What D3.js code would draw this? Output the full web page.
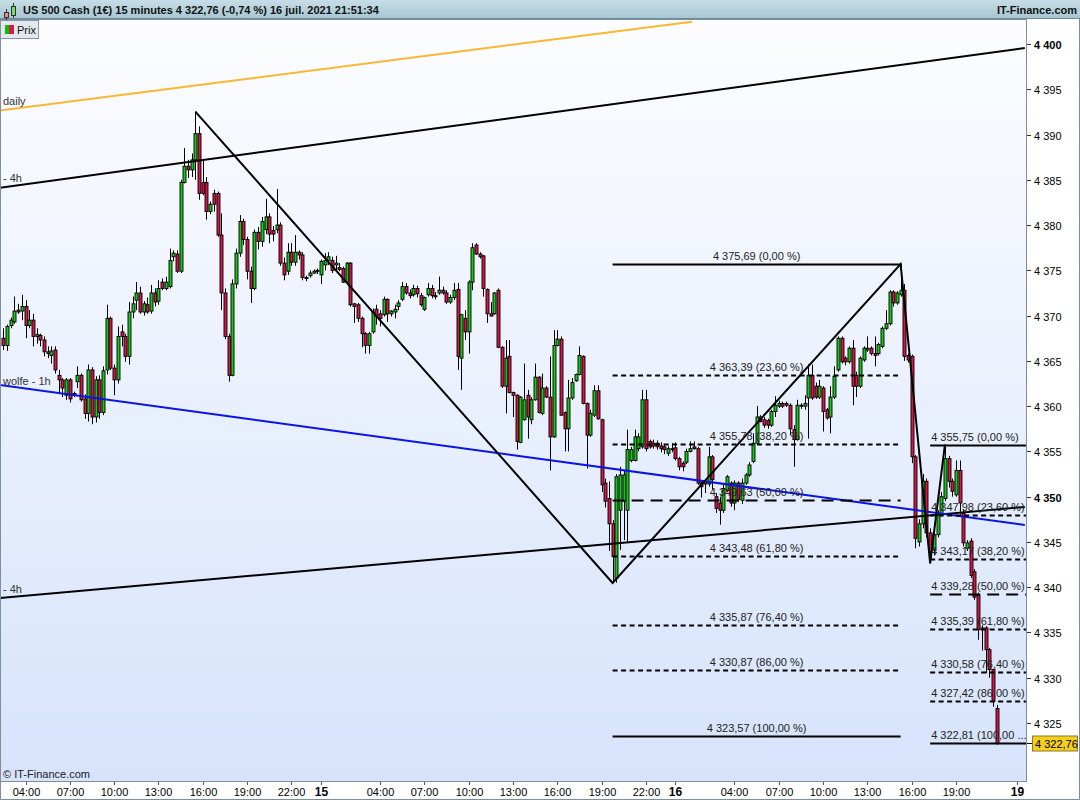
<!DOCTYPE html>
<html><head><meta charset="utf-8">
<script src="https://cdn.jsdelivr.net/npm/d3@7"></script>
<style>body{margin:0;background:#fff}svg{display:block}text{font-family:"Liberation Sans",Arial,sans-serif}</style>
</head><body><svg id="c" width="1080" height="800"></svg>
<script>
// ---------- data ----------
const firstCandleHour = 2.5;      // 14 juil. 02:30 (hours since 14 juil. 00:00)
const candleHours = 0.25;         // 15 minutes
const opens = [4367.5,4366.7,4368.9,4369.3,4370.6,4370.5,4371.0,4368.9,4369.5,4367.7,4367.8,4367.3,4366.0,4365.6,4366.2,4363.4,4362.9,4361.2,4362.9,4361.3,4362.7,4363.4,4360.8,4359.2,4364.0,4358.8,4362.9,4359.3,4364.0,4369.7,4364.2,4362.9,4368.2,4367.7,4365.5,4370.4,4371.7,4372.5,4370.4,4371.2,4370.5,4372.5,4371.6,4373.7,4373.0,4373.2,4376.5,4376.8,4374.9,4384.7,4386.5,4386.1,4387.2,4390.1,4384.7,4384.7,4381.5,4383.5,4383.5,4378.9,4372.5,4367.7,4363.4,4373.5,4376.9,4380.4,4378.4,4374.9,4373.0,4379.2,4378.2,4379.5,4380.9,4379.4,4379.5,4380.0,4375.8,4374.9,4377.0,4375.9,4377.0,4376.7,4374.2,4374.4,4374.7,4375.0,4374.5,4375.6,4376.1,
4376.1,4375.6,4375.3,4375.2,4373.7,4375.8,4371.3,4371.2,4369.7,4368.0,4366.7,4368.2,4370.7,4370.2,4370.1,4371.8,4370.2,4370.4,4371.0,4371.8,4373.2,4372.5,4372.3,4373.0,4372.2,4370.7,4372.3,4373.0,4372.1,4372.5,4372.8,4372.5,4371.5,4372.0,4372.9,4365.3,4369.7,4368.2,4373.7,4377.8,4376.8,4376.6,4372.9,4370.2,4370.2,4372.8,4366.5,4362.2,4365.5,4361.5,4361.2,4356.0,4358.5,4361.2,4358.5,4360.7,4363.2,4359.2,4362.0,4361.0,4356.6,4366.7,4367.4,4359.3,4357.5,4360.9,4362.8,4363.5,4365.5,4360.3,4356.8,4359.0,4361.7,
4358.5,4351.5,4349.8,4347.0,4341.0,4348.5,4349.5,4348.5,4354.0,4354.0,4355.3,4355.5,4360.7,4356.1,4355.9,4355.9,4355.6,4355.5,4354.8,4355.3,4355.4,4354.2,4353.7,4353.8,4355.0,4355.5,4355.3,4351.5,4351.7,4351.4,4354.4,4350.0,4349.3,4348.5,4350.7,4351.5,4349.3,4351.5,4349.6,4351.5,4352.4,4353.9,4355.9,4358.8,4358.5,4358.4,4357.9,4359.4,4360.0,4360.3,4360.3,4360.1,4357.4,4356.3,4360.1,4360.0,4360.9,4363.4,4362.2,4361.0,4362.0,4359.6,4358.8,4361.0,4364.0,4367.5,4365.3,4364.9,4366.4,4363.4,4362.2,4365.1,4366.2,4366.4,4365.8,4365.8,4366.6,4368.6,4369.1,4372.6,4371.4,4372.3,4372.8,4365.6,
4365.5,4354.4,4345.0,4347.0,4351.7,4346.0,4344.1,4345.8,4348.0,4349.8,4354.2,4351.7,4350.2,4352.9,4348.2,4344.3,4345.1,4341.7,4339.1,4335.5,4335.5,4333.1,4330.9,4326.6];
const highs = [4368.6,4369.0,4369.8,4372.1,4371.3,4372.3,4371.7,4370.6,4370.2,4368.6,4368.0,4367.7,4366.6,4366.6,4366.6,4364.0,4363.1,4363.1,4363.1,4361.6,4364.4,4363.6,4361.3,4364.6,4364.3,4363.3,4363.4,4364.4,4371.2,4369.9,4364.6,4368.8,4369.0,4368.0,4371.5,4372.1,4373.7,4373.2,4371.6,4372.0,4373.4,4373.0,4373.9,4374.1,4374.3,4377.4,4377.2,4377.2,4385.0,4388.5,4387.2,4387.9,4392.54,4390.9,4387.2,4385.3,4382.6,4383.9,4383.7,4381.3,4373.0,4368.0,4374.0,4377.4,4381.1,4380.7,4378.7,4375.4,4379.5,4379.8,4380.9,4382.9,4381.3,4379.9,4384.0,4380.3,4376.4,4378.0,4378.0,4378.9,4377.2,4377.0,4374.4,4375.0,4375.1,4375.2,4376.2,4376.9,4377.0,
4376.5,4376.6,4375.8,4375.4,4375.9,4375.9,4371.4,4371.4,4369.9,4368.2,4368.2,4370.8,4371.2,4370.6,4372.1,4371.9,4370.6,4371.2,4371.7,4373.7,4373.6,4372.9,4373.4,4373.3,4372.5,4372.1,4373.6,4373.4,4372.6,4374.3,4373.2,4372.8,4372.3,4373.6,4373.6,4370.2,4370.6,4373.9,4378.0,4378.0,4377.0,4376.7,4373.0,4371.5,4372.6,4373.0,4366.6,4367.3,4367.3,4361.6,4361.3,4361.1,4364.7,4361.8,4361.0,4364.7,4363.3,4363.6,4362.2,4365.5,4368.4,4368.4,4367.7,4359.4,4362.9,4363.1,4363.6,4366.6,4365.6,4360.4,4359.6,4362.3,4362.3,
4358.6,4352.0,4351.7,4347.4,4352.5,4353.3,4352.9,4357.4,4355.5,4357.4,4357.0,4361.8,4361.8,4356.3,4356.3,4356.2,4356.0,4355.8,4355.6,4355.9,4356.0,4354.4,4353.9,4355.3,4356.1,4356.1,4355.5,4351.6,4351.9,4355.5,4354.6,4350.4,4350.0,4351.3,4352.4,4351.7,4351.8,4351.7,4352.0,4352.6,4353.8,4357.0,4360.0,4359.0,4358.8,4358.6,4359.6,4361.1,4360.6,4360.5,4360.5,4360.3,4357.9,4360.7,4360.3,4361.2,4364.6,4364.6,4362.6,4362.9,4362.2,4359.8,4362.2,4364.4,4367.7,4367.7,4365.5,4366.6,4367.3,4363.8,4365.5,4366.6,4367.7,4366.6,4367.7,4367.0,4368.8,4370.6,4372.8,4372.8,4372.7,4375.69,4373.5,4365.8,
4365.7,4354.6,4347.5,4352.5,4352.0,4346.5,4346.2,4348.5,4350.5,4355.75,4354.5,4352.0,4354.0,4354.0,4348.6,4345.2,4345.4,4342.0,4339.4,4335.8,4335.7,4333.3,4331.0,4327.0];
const lows = [4366.2,4366.1,4368.6,4369.1,4370.2,4369.5,4367.5,4368.6,4366.6,4366.9,4366.6,4365.5,4365.3,4364.7,4363.6,4361.4,4361.0,4360.7,4360.4,4361.0,4362.0,4360.5,4358.6,4358.3,4358.0,4358.2,4358.6,4359.0,4363.5,4364.0,4361.2,4362.5,4366.6,4364.9,4364.6,4369.7,4370.6,4370.2,4370.0,4370.2,4370.2,4371.0,4371.2,4372.8,4372.8,4373.0,4376.0,4374.7,4374.7,4384.6,4385.2,4385.3,4385.0,4382.8,4383.3,4380.6,4381.2,4381.5,4378.7,4370.6,4367.4,4362.7,4363.3,4373.0,4376.5,4377.8,4374.0,4371.4,4372.8,4377.3,4377.6,4379.0,4378.0,4378.2,4379.1,4375.5,4373.9,4374.5,4375.5,4375.5,4376.2,4373.9,4373.8,4374.2,4374.6,4374.6,4373.5,4375.0,4375.6,
4374.7,4375.0,4374.9,4373.6,4373.6,4371.0,4369.2,4369.3,4366.5,4365.8,4365.8,4368.0,4369.0,4368.8,4369.9,4369.3,4369.9,4369.7,4370.6,4371.6,4372.3,4371.9,4372.1,4372.0,4371.0,4370.5,4372.1,4371.9,4371.8,4372.3,4372.3,4371.3,4371.3,4371.7,4364.0,4361.8,4367.3,4365.8,4372.8,4376.7,4376.3,4372.1,4369.2,4369.9,4370.1,4366.4,4362.0,4359.2,4361.4,4358.8,4355.2,4355.9,4358.4,4356.4,4358.0,4360.6,4359.2,4359.0,4360.9,4352.9,4356.5,4366.6,4358.9,4355.0,4355.0,4360.7,4362.7,4363.4,4360.2,4353.1,4356.6,4358.8,4358.5,
4350.5,4348.8,4344.0,4340.46,4340.5,4344.1,4345.2,4345.0,4353.8,4353.9,4355.0,4355.3,4355.0,4355.3,4355.3,4355.2,4354.9,4354.7,4354.5,4354.9,4354.0,4352.9,4352.8,4353.6,4354.9,4355.2,4351.3,4349.9,4350.4,4351.1,4350.8,4348.2,4346.9,4348.2,4350.5,4348.9,4348.5,4349.4,4349.2,4351.3,4352.2,4353.7,4355.7,4358.2,4357.6,4357.5,4357.7,4358.8,4359.8,4359.8,4359.9,4356.8,4353.3,4356.2,4359.7,4359.6,4356.4,4360.7,4360.8,4360.8,4357.2,4358.5,4357.0,4360.8,4363.8,4364.7,4364.5,4364.7,4360.1,4361.0,4362.0,4364.9,4366.0,4365.6,4364.4,4365.6,4366.4,4368.4,4368.9,4371.0,4371.2,4372.1,4365.0,4364.8,
4353.7,4344.3,4344.5,4346.5,4345.5,4342.64,4343.5,4345.5,4347.8,4349.5,4351.0,4350.0,4350.0,4348.0,4344.5,4344.0,4341.0,4338.6,4334.2,4333.0,4330.5,4330.0,4326.8,4322.6];
const closes = [4366.7,4368.8,4369.5,4370.5,4370.4,4371.0,4368.9,4369.5,4367.7,4367.9,4367.3,4366.0,4365.8,4366.1,4364.0,4362.9,4362.0,4362.9,4360.8,4361.4,4363.4,4360.7,4359.2,4364.0,4358.8,4362.9,4359.3,4363.9,4369.7,4364.2,4362.9,4367.7,4367.7,4365.5,4370.4,4371.3,4372.5,4370.4,4371.3,4370.4,4372.5,4371.5,4373.0,4373.0,4373.7,4376.1,4376.9,4374.9,4384.7,4386.5,4386.1,4387.2,4390.1,4383.5,4383.5,4381.5,4382.3,4382.3,4378.9,4372.5,4367.7,4363.4,4373.5,4376.9,4380.4,4378.4,4374.9,4373.0,4379.2,4378.2,4380.4,4380.9,4379.0,4379.0,4380.0,4375.8,4374.5,4377.0,4375.9,4377.0,4376.7,4374.2,4374.1,4374.7,4374.9,4374.9,4376.0,4376.1,4376.5,
4375.0,4375.8,4375.1,4373.7,4375.8,4371.2,4371.0,4369.7,4368.0,4366.7,4368.0,4370.4,4369.9,4369.7,4371.8,4370.2,4370.5,4370.7,4371.4,4373.2,4372.5,4372.2,4373.0,4372.4,4371.2,4372.0,4373.0,4372.2,4372.2,4372.8,4372.5,4371.5,4372.0,4372.8,4365.5,4370.1,4368.2,4373.7,4377.5,4376.8,4376.5,4373.0,4370.2,4369.95,4372.5,4366.5,4362.2,4365.3,4361.5,4361.2,4356.1,4361.0,4360.7,4358.8,4360.7,4363.2,4359.3,4362.0,4361.0,4356.6,4366.7,4367.4,4359.0,4357.5,4360.9,4362.6,4363.5,4365.6,4360.3,4356.8,4359.2,4361.7,4358.6,
4351.3,4349.5,4347.0,4343.4,4352.2,4352.4,4352.4,4355.2,4355.2,4356.6,4356.6,4360.7,4355.3,4355.5,4355.6,4355.5,4355.3,4355.2,4355.3,4355.2,4354.2,4353.3,4353.3,4355.0,4355.3,4355.3,4351.5,4351.1,4351.4,4354.4,4351.9,4348.7,4348.5,4350.9,4352.2,4349.3,4351.5,4349.7,4351.5,4352.4,4353.5,4355.9,4358.8,4358.3,4357.9,4357.9,4359.4,4360.1,4360.3,4360.0,4360.1,4357.5,4356.3,4360.1,4360.0,4360.3,4363.4,4360.9,4361.0,4362.2,4359.4,4358.7,4361.0,4363.3,4367.5,4364.9,4364.9,4366.4,4362.2,4362.2,4365.3,4366.4,4366.4,4365.8,4365.6,4366.8,4368.6,4369.1,4372.6,4371.4,4372.5,4372.8,4365.5,4365.1,
4354.4,4345.4,4347.0,4351.7,4346.0,4343.9,4345.8,4348.2,4350.0,4354.2,4351.7,4350.6,4352.9,4349.3,4344.9,4344.9,4341.3,4338.9,4335.3,4335.3,4333.1,4330.9,4327.4,4322.76];

const yTickValues = [4325,4330,4335,4340,4345,4350,4355,4360,4365,4370,4375,4380,4385,4390,4395,4400];
const yTickBold = [4350,4400];
const xTickHours = [4,7,10,13,16,19,22,24,28,31,34,37,40,43,46,48,52,55,58,61,64,67,71.1];
const xTickLabels = ["04:00","07:00","10:00","13:00","16:00","19:00","22:00","15","04:00","07:00","10:00","13:00","16:00","19:00","22:00","16","04:00","07:00","10:00","13:00","16:00","19:00","19"];

// trend lines: two anchor points each (hour, price)
const trendNames  = ["daily","- 4h","- 4h","wolfe - 1h"];
const trendHours  = [[2.27,49.13],[2.27,71.66],[2.27,71.66],[2.27,71.66]];
const trendPrices = [[4392.65,4402.47],[4384.13,4399.56],[4338.80,4348.86],[4362.33,4346.87]];
const trendColors = ["#f9b733","#000000","#000000","#0a14e6"];

// zig-zag through candle extremes
const zigzagCandles = [52,165,243,251,255];
const zigzagPrices  = [4392.54,4340.46,4375.69,4342.64,4355.75];

// Fibonacci retracements
const fibPercents = [0,23.6,38.2,50,61.8,76.4,86,100];
const fibLeft  = [4375.69,4323.57];
const fibRight = [4355.75,4322.81];
const lastPrice = 4322.76;

// ---------- drawing ----------
const svg = d3.select("#c");
const P = {l:0, t:19, r:1026, b:781};
const x = d3.scaleLinear().domain([4,67]).range([25.5,956]);
const y = d3.scaleLinear().domain([4325,4400]).range([723,44]);
const loc = d3.formatLocale({decimal:",",thousands:"\u00a0",grouping:[3],currency:["",""]});
const f2 = loc.format(",.2f"), f0 = loc.format(",d");
const fr = v => f2(v).replace(/\u00a0/g," ");

const defs = svg.append("defs");
const g1 = defs.append("linearGradient").attr("id","bg").attr("x1",0).attr("y1",0).attr("x2",0).attr("y2",1);
g1.append("stop").attr("offset",0).attr("stop-color","#fdfdff");
g1.append("stop").attr("offset",1).attr("stop-color","#d6e3fb");
const g2 = defs.append("linearGradient").attr("id","hd").attr("x1",0).attr("y1",0).attr("x2",0).attr("y2",1);
g2.append("stop").attr("offset",0).attr("stop-color","#c7dde6");
g2.append("stop").attr("offset",1).attr("stop-color","#a6c6d2");
defs.append("clipPath").attr("id","clip").append("rect").attr("x",P.l).attr("y",P.t).attr("width",P.r-P.l).attr("height",P.b-P.t);

svg.append("rect").attr("x",0).attr("y",0).attr("width",1080).attr("height",800).attr("fill","#fff");
svg.append("rect").attr("x",P.l).attr("y",P.t).attr("width",P.r-P.l).attr("height",P.b-P.t).attr("fill","url(#bg)");

const plot = svg.append("g").attr("clip-path","url(#clip)");

// candles
const candles = opens.map((o,i)=>({i,h:firstCandleHour+i*candleHours,o,hi:highs[i],lo:lows[i],c:closes[i]}));
const cg = plot.append("g");
candles.forEach(d=>{
  const cx = Math.round(x(d.h))+0.5;
  cg.append("line").attr("x1",cx).attr("x2",cx).attr("y1",y(d.hi)).attr("y2",y(d.lo)).attr("stroke","#000").attr("stroke-width",1);
  const top = y(Math.max(d.o,d.c)), bot = y(Math.min(d.o,d.c));
  cg.append("rect").attr("x",cx-1.5).attr("y",top).attr("width",3).attr("height",Math.max(1,bot-top))
    .attr("fill",d.c>=d.o?"#16c816":"#d4174a").attr("stroke","#000").attr("stroke-width",0.9);
});

// trend lines
trendNames.forEach((n,k)=>{
  const [h0,h1]=trendHours[k],[p0,p1]=trendPrices[k];
  plot.append("line").attr("x1",x(h0)).attr("y1",y(p0)).attr("x2",x(h1)).attr("y2",y(p1))
    .attr("stroke",trendColors[k]).attr("stroke-width",2);
  const lx = 3;
  const t = plot.append("text").attr("x",lx).attr("font-size",11).attr("fill","#333").text(n);
  const mid = lx + t.node().getComputedTextLength()/2;
  const lyy = y(p0)+(y(p1)-y(p0))*(mid-x(h0))/(x(h1)-x(h0)) - 4;
  t.attr("y",lyy);
});

// zigzag
plot.append("path").attr("fill","none").attr("stroke","#000").attr("stroke-width",2)
  .attr("d",d3.line()(zigzagCandles.map((c,k)=>[x(firstCandleHour+c*candleHours),y(zigzagPrices[k])])));

// fibs
function fib(levels, x0, x1, labelMode){
  const [hi,lo]=levels;
  fibPercents.forEach(p=>{
    const v = hi-(hi-lo)*p/100, yy=Math.round(y(v))+0.5;
    const ln = plot.append("line").attr("x1",x0).attr("x2",x1).attr("y1",yy).attr("y2",yy).attr("stroke","#000").attr("stroke-width",2);
    if(p===50) ln.attr("stroke-dasharray","12,7");
    else if(p!==0 && p!==100) ln.attr("stroke-dasharray","5,3.5");
    let txt = `${fr(v)} (${fr(p)} %)`;
    const t = plot.append("text").attr("y",yy-5).attr("font-size",11).attr("fill","#222");
    if(labelMode==="center"){ t.attr("x",(x0+x1)/2).attr("text-anchor","middle").text(txt); }
    else {
      t.attr("x",x0+1).text(txt);
      const maxW = x1-x0+2;
      if(t.node().getComputedTextLength()>maxW){
        let s=txt; while(s.length>3){ s=s.slice(0,-1); t.text(s+" ..."); if(t.node().getComputedTextLength()<=maxW) break; }
      }
    }
  });
}
const hz = c=>x(firstCandleHour+c*candleHours);
fib(fibLeft, hz(zigzagCandles[1]), hz(zigzagCandles[2]), "center");
fib(fibRight, hz(zigzagCandles[3]), P.r, "left");

// copyright
svg.append("text").attr("x",3).attr("y",778).attr("font-size",11).attr("fill","#222").text("\u00a9 IT-Finance.com");

// right axis
svg.append("rect").attr("x",P.r).attr("y",P.t).attr("width",1080-P.r).attr("height",800-P.t).attr("fill","#fff");
svg.append("rect").attr("x",0).attr("y",P.b).attr("width",1080).attr("height",800-P.b).attr("fill","#fff");
const ya = svg.append("g");
yTickValues.forEach(v=>{
  const yy=Math.round(y(v))+0.5;
  ya.append("line").attr("x1",P.r).attr("x2",P.r+5).attr("y1",yy).attr("y2",yy).attr("stroke","#333");
  ya.append("text").attr("x",P.r+8).attr("y",yy+4).attr("font-size",11).attr("fill","#000")
    .attr("font-weight",yTickBold.includes(v)?"bold":"normal").text(f0(v).replace(/\u00a0/g," "));
});
// last price tag
const ly = Math.round(y(lastPrice))+0.5;
ya.append("line").attr("x1",P.r-6).attr("x2",P.r+6).attr("y1",ly).attr("y2",ly).attr("stroke","#000");
ya.append("rect").attr("x",P.r+6.5).attr("y",ly-7.5).attr("width",45).attr("height",15).attr("fill","#f5cf1d").attr("stroke","#8a7a2a");
ya.append("text").attr("x",P.r+9).attr("y",ly+4).attr("font-size",11).attr("fill","#000").text(fr(lastPrice));

// x axis
const xa = svg.append("g");
xTickHours.forEach((h,k)=>{
  const xx=Math.round(x(h))+0.5, day=!xTickLabels[k].includes(":");
  xa.append("line").attr("x1",xx).attr("x2",xx).attr("y1",P.b).attr("y2",P.b+4).attr("stroke","#555");
  xa.append("text").attr("x",xx).attr("y",796).attr("text-anchor","middle").attr("font-size",day?12:11)
    .attr("font-weight",day?"bold":"normal").attr("fill","#000").text(xTickLabels[k]);
});

// frames
svg.append("rect").attr("x",P.l+0.5).attr("y",P.t+0.5).attr("width",P.r-P.l).attr("height",P.b-P.t).attr("fill","none").attr("stroke","#7d8e9c");
svg.append("rect").attr("x",0.5).attr("y",0.5).attr("width",1079).attr("height",799).attr("fill","none").attr("stroke","#7d8e9c");

// header
svg.append("rect").attr("x",0).attr("y",0).attr("width",1080).attr("height",19).attr("fill","url(#hd)");
svg.append("line").attr("x1",0).attr("x2",1080).attr("y1",18.5).attr("y2",18.5).attr("stroke","#6f8a97");
const ic = svg.append("g");
ic.append("line").attr("x1",6.5).attr("x2",6.5).attr("y1",9).attr("y2",20).attr("stroke","#333");
ic.append("rect").attr("x",4.5).attr("y",12.5).attr("width",4).attr("height",5).attr("fill","#f08a8a").attr("stroke","#333");
ic.append("line").attr("x1",13.5).attr("x2",13.5).attr("y1",3).attr("y2",18).attr("stroke","#333");
ic.append("rect").attr("x",11.5).attr("y",6.5).attr("width",4).attr("height",9).attr("fill","#6de06d").attr("stroke","#333");
svg.append("text").attr("x",23).attr("y",14).attr("font-size",11).attr("font-weight","bold").attr("fill","#111")
  .text("US 500 Cash (1\u20ac) 15 minutes 4 322,76 (-0,74 %) 16 juil. 2021 21:51:34");
svg.append("text").attr("x",1077).attr("y",14).attr("text-anchor","end").attr("font-size",11).attr("font-weight","bold").attr("fill","#111").text("IT-Finance.com");

// legend "Prix"
const lg = svg.append("g");
lg.append("rect").attr("x",0.5).attr("y",20.5).attr("width",38).attr("height",18).attr("fill","#e3e8ee").attr("stroke","#8595a5");
lg.append("rect").attr("x",5).attr("y",25).attr("width",4).attr("height",9).attr("fill","#00c800");
lg.append("rect").attr("x",9).attr("y",25).attr("width",5).attr("height",9).attr("fill","#d4174a");
lg.append("text").attr("x",17).attr("y",34).attr("font-size",11).attr("fill","#111").text("Prix");
</script></body></html>
